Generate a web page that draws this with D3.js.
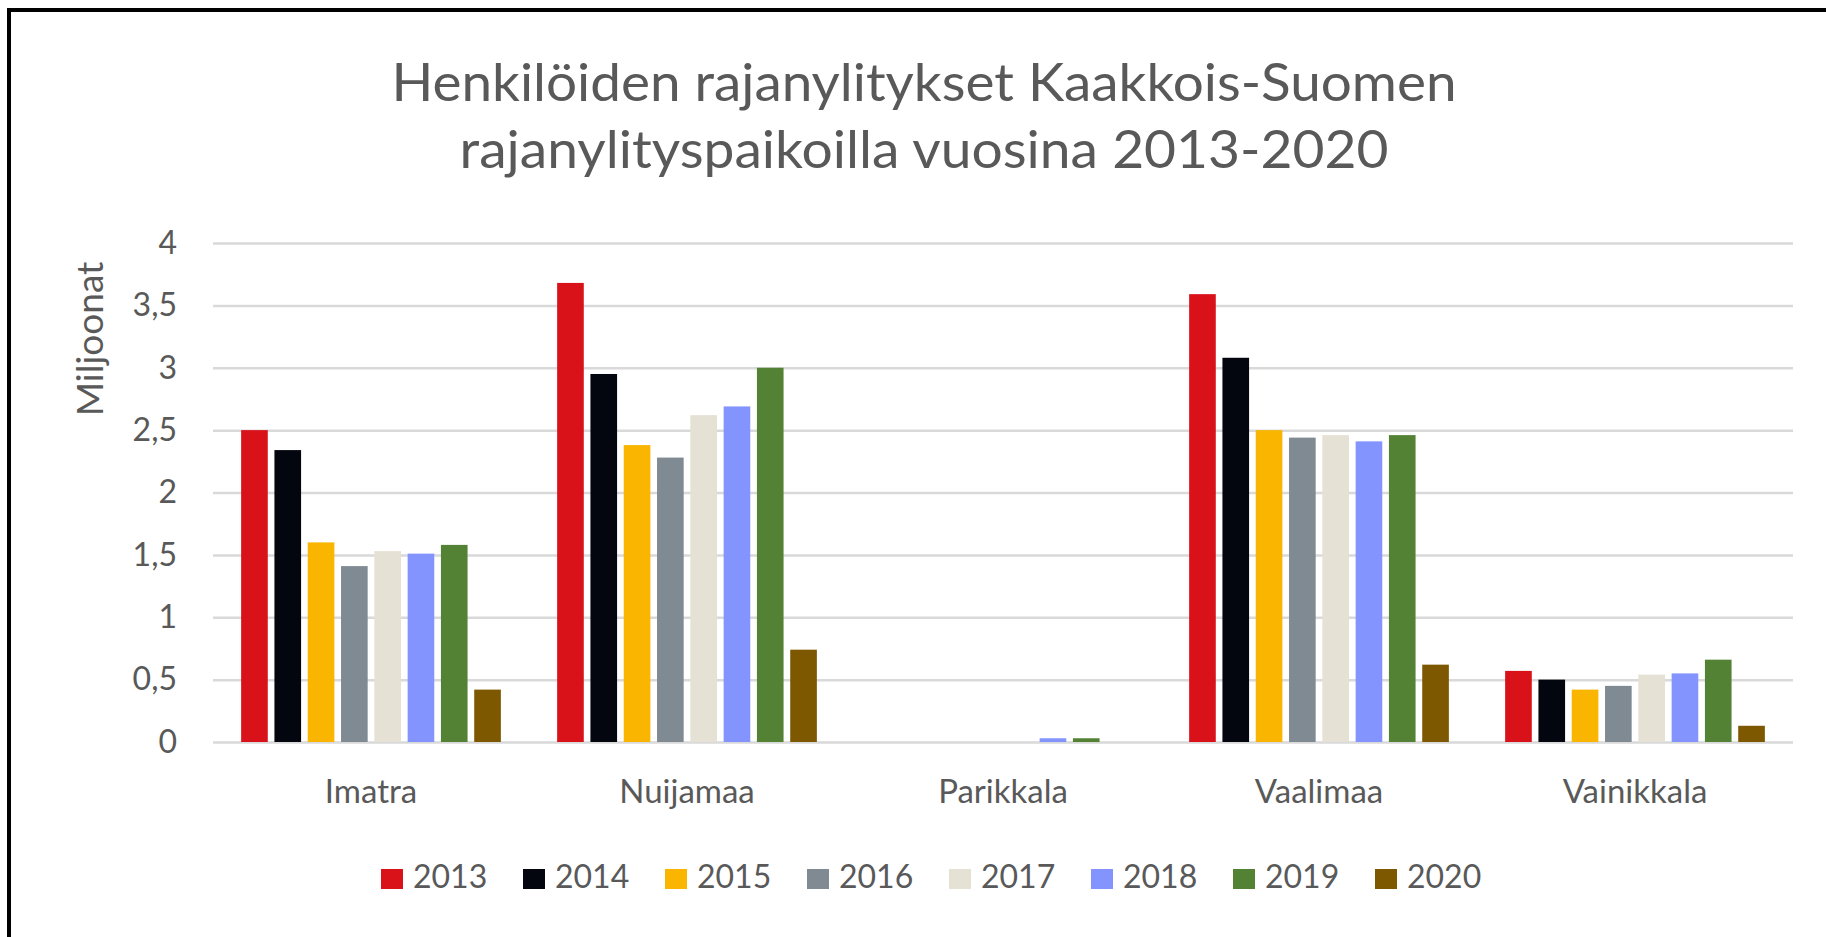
<!DOCTYPE html>
<html>
<head>
<meta charset="utf-8">
<script src="https://cdn.jsdelivr.net/npm/d3@7"></script>
<style>
    body { margin: 0; background: #ffffff; }
    #chart { width: 1826px; height: 937px; overflow: hidden; }
    text { font-family: Lato, "Open Sans", sans-serif; fill: #595959; }
</style>
</head>
<body>
<div id="chart"></div>
<script>

// DATA (miljoonaa henkilöä)

const categories = ["Imatra", "Nuijamaa", "Parikkala", "Vaalimaa", "Vainikkala"];
const years = ["2013", "2014", "2015", "2016", "2017", "2018", "2019", "2020"];

const values2013 = [2.50, 3.68, 0.00, 3.59, 0.57];
const values2014 = [2.34, 2.95, 0.00, 3.08, 0.50];
const values2015 = [1.60, 2.38, 0.00, 2.50, 0.42];
const values2016 = [1.41, 2.28, 0.00, 2.44, 0.45];
const values2017 = [1.53, 2.62, 0.00, 2.46, 0.54];
const values2018 = [1.51, 2.69, 0.03, 2.41, 0.55];
const values2019 = [1.58, 3.00, 0.03, 2.46, 0.66];
const values2020 = [0.42, 0.74, 0.00, 0.62, 0.13];

const yTicks = [0, 0.5, 1, 1.5, 2, 2.5, 3, 3.5, 4];

const titleLines = ["Henkilöiden rajanylitykset Kaakkois-Suomen", "rajanylityspaikoilla vuosina 2013-2020"];
const yTitle = "Miljoonat";

const colors = ["#d91119", "#03050f", "#f9b500", "#808a93", "#e6e1d5", "#8494fe", "#548235", "#7d5800"];

const series = [values2013, values2014, values2015, values2016, values2017, values2018, values2019, values2020];

// one row per bar
const rows = [];
categories.forEach(function(c, i) {
    years.forEach(function(y, j) {
        rows.push({category: c, year: y, value: series[j][i]});
    });
});

// SVG CANVAS

const width = 1826;
const height = 937;
const plot = {left: 213, right: 1793, top: 243, bottom: 742};

const svg = d3.select("#chart")
    .append("svg")
    .attr("width", width)
    .attr("height", height);

svg.append("rect")
    .attr("x", 9)
    .attr("y", 10)
    .attr("width", width + 100)
    .attr("height", height + 100)
    .attr("fill", "white")
    .attr("stroke", "black")
    .attr("stroke-width", 4);

// SCALES

const x0 = d3.scaleBand()
    .domain(categories)
    .range([plot.left, plot.right])
    .padding(0);

const x1 = d3.scaleBand()
    .domain(years)
    .range([0, x0.bandwidth()])
    .paddingInner(0.2)
    .paddingOuter(0.845);

const yScale = d3.scaleLinear()
    .domain([0, 4])
    .range([plot.bottom, plot.top]);

const colorScale = d3.scaleOrdinal()
    .domain(years)
    .range(colors);

const fiLocale = d3.formatLocale({decimal: ",", thousands: " ", grouping: [3], currency: ["", " €"]});

// AXES + GRID

const yAxis = svg.append("g")
    .attr("transform", `translate(${plot.left},0)`)
    .call(d3.axisLeft(yScale)
        .tickValues(yTicks)
        .tickSize(-(plot.right - plot.left))
        .tickPadding(36)
        .tickFormat(fiLocale.format("~g")));

yAxis.select(".domain").remove();
yAxis.selectAll(".tick line")
    .attr("stroke", "#d9d9d9")
    .attr("stroke-width", 2.5);
yAxis.selectAll(".tick text")
    .attr("font-size", 32)
    .attr("fill", "#595959");

const xAxis = svg.append("g")
    .attr("transform", `translate(0,${plot.bottom})`)
    .call(d3.axisBottom(x0).tickSize(0));

xAxis.select(".domain").remove();
xAxis.selectAll(".tick text")
    .attr("y", 61)
    .attr("dy", 0)
    .attr("font-size", 33)
    .attr("fill", "#595959");

// BARS

svg.append("g")
    .selectAll("rect")
    .data(rows)
    .enter()
    .append("rect")
        .attr("x", function(d) { return x0(d.category) + x1(d.year); })
        .attr("y", function(d) { return yScale(d.value); })
        .attr("width", x1.bandwidth())
        .attr("height", function(d) { return yScale(0) - yScale(d.value); })
        .attr("fill", function(d) { return colorScale(d.year); });

// TITLES

svg.append("g")
    .selectAll("text")
    .data(titleLines)
    .enter()
    .append("text")
        .attr("x", 924)
        .attr("y", function(d, i) { return 101 + i * 67; })
        .attr("text-anchor", "middle")
        .attr("font-size", 52)
        .attr("textLength", function(d, i) { return i === 0 ? 1065 : 929; })
        .attr("lengthAdjust", "spacingAndGlyphs")
        .text(function(d) { return d; });

svg.append("text")
    .attr("transform", "translate(103,339) rotate(-90)")
    .attr("text-anchor", "middle")
    .attr("font-size", 37)
    .text(yTitle);

// LEGEND

const legend = svg.append("g")
    .attr("transform", "translate(381,869)");

const items = legend.selectAll("g")
    .data(years)
    .enter()
    .append("g")
        .attr("transform", function(d, i) { return `translate(${i * 142},0)`; });

items.append("rect")
    .attr("width", 22)
    .attr("height", 20)
    .attr("fill", function(d) { return colorScale(d); });

items.append("text")
    .attr("x", 32)
    .attr("y", 19)
    .attr("font-size", 32)
    .text(function(d) { return d; });

</script>
</body>
</html>
